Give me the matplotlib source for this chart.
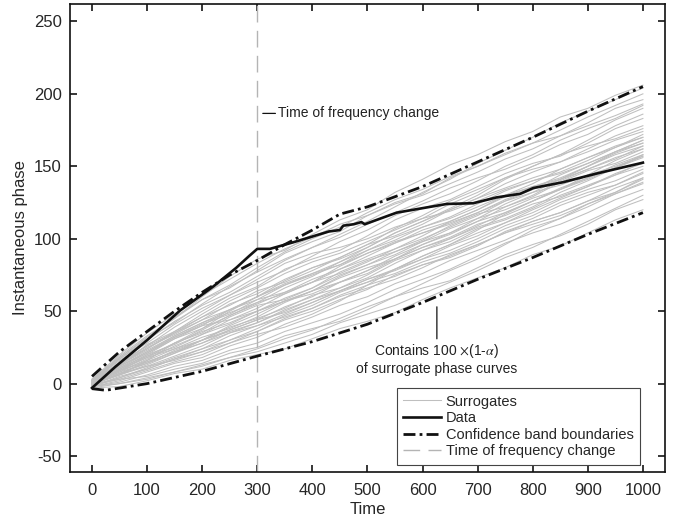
import numpy as np
import matplotlib
matplotlib.use("Agg")
import matplotlib.pyplot as plt

plt.rcParams['font.family'] = ['Liberation Sans', 'DejaVu Sans']
plt.rcParams['mathtext.fontset'] = 'stix'
plt.rcParams['axes.unicode_minus'] = False

# surrogate phase curves, sampled every 50 time units
surr_t = [0, 50, 100, 150, 200, 250, 300, 350, 400, 450, 500,
          550, 600, 650, 700, 750, 800, 850, 900, 950, 1000]
surrogates = [
    [2, 19, 33, 45, 60, 74, 86, 92, 103, 113, 120, 132, 141, 151, 158, 167, 174, 184, 190, 199, 206],
    [-3, -2, 2, 7, 10, 16, 20, 24, 31, 38, 43, 49, 58, 66, 73, 80, 89, 95, 104, 113, 120],
    [1, 17, 30, 46, 58, 66, 78, 90, 98, 105, 116, 125, 131, 142, 150, 159, 166, 171, 180, 190, 196],
    [-1, 3, 5, 10, 14, 21, 25, 33, 38, 43, 51, 60, 66, 71, 80, 89, 96, 102, 110, 120, 127],
    [0, 12, 27, 36, 48, 59, 67, 79, 86, 92, 102, 113, 121, 127, 136, 145, 152, 157, 166, 176, 183],
    [-2, 5, 10, 17, 22, 28, 36, 44, 50, 58, 65, 75, 82, 87, 95, 105, 112, 118, 126, 132, 141],
    [1, 12, 21, 32, 41, 48, 58, 68, 75, 82, 92, 101, 108, 115, 124, 133, 140, 146, 154, 163, 170],
    [0, 8, 14, 21, 30, 39, 45, 52, 61, 66, 75, 85, 92, 98, 107, 113, 121, 130, 137, 144, 153],
    [1, 9, 19, 28, 35, 46, 54, 58, 66, 77, 85, 91, 99, 109, 117, 122, 129, 139, 147, 152, 160],
    [2, 16, 28, 41, 52, 61, 72, 83, 90, 94, 100, 108, 114, 119, 126, 134, 140, 145, 152, 160, 166],
    [-2, 2, 8, 14, 18, 26, 32, 41, 48, 57, 68, 79, 88, 96, 106, 117, 126, 134, 144, 154, 162],
    [0, 6, 16, 28, 38, 50, 60, 71, 80, 87, 96, 102, 110, 120, 128, 138, 146, 153, 162, 171, 178],
    [1, 12, 22, 32, 40, 44, 50, 57, 62, 70, 76, 86, 94, 101, 110, 116, 124, 129, 136, 144, 150],
    [-1, 7, 12, 19, 26, 35, 42, 51, 58, 64, 72, 78, 86, 95, 102, 111, 118, 127, 134, 140, 148],
    [3, 13, 25, 34, 44, 55, 62, 72, 80, 86, 94, 104, 112, 121, 130, 141, 150, 158, 168, 178, 186],
    [0, 10, 18, 24, 32, 38, 46, 56, 64, 74, 82, 89, 98, 107, 114, 120, 128, 134, 142, 151, 158],
    [2, 14, 24, 36, 46, 54, 64, 70, 78, 87, 96, 107, 116, 126, 134, 142, 148, 153, 160, 168, 174],
    [-1, 4, 11, 18, 24, 30, 38, 47, 54, 63, 70, 76, 84, 90, 98, 107, 114, 123, 130, 137, 146],
    [1, 10, 20, 27, 37, 47, 55, 63, 72, 79, 88, 97, 104, 110, 118, 127, 134, 141, 150, 159, 166],
    [0, 9, 15, 22, 28, 37, 44, 49, 56, 64, 70, 79, 86, 92, 100, 109, 116, 125, 132, 137, 145],
    [2, 17, 30, 43, 54, 63, 74, 85, 94, 101, 110, 118, 126, 135, 142, 148, 156, 165, 172, 182, 190],
    [-2, 1, 6, 12, 16, 23, 28, 36, 42, 48, 56, 65, 72, 79, 88, 97, 104, 110, 118, 127, 134],
    [1, 13, 23, 33, 42, 51, 58, 63, 70, 79, 86, 93, 102, 112, 120, 130, 138, 148, 156, 163, 172],
    [0, 6, 13, 21, 28, 35, 40, 46, 52, 60, 66, 72, 80, 89, 96, 104, 112, 118, 126, 135, 142],
    [1, 15, 26, 39, 50, 61, 70, 78, 88, 98, 106, 116, 124, 131, 140, 150, 158, 168, 176, 183, 192],
    [-1, 3, 9, 15, 20, 28, 34, 39, 46, 54, 60, 69, 76, 85, 92, 99, 108, 114, 122, 131, 138],
    [2, 11, 19, 25, 34, 44, 52, 62, 70, 81, 90, 97, 106, 112, 120, 129, 136, 142, 150, 158, 164],
    [0, 8, 17, 26, 34, 41, 50, 57, 64, 70, 78, 88, 96, 103, 112, 122, 130, 140, 148, 155, 164],
    [1, 11, 21, 31, 38, 47, 56, 66, 74, 84, 92, 99, 108, 114, 122, 130, 136, 141, 148, 156, 162],
    [-1, 7, 14, 23, 30, 40, 48, 57, 64, 73, 80, 86, 94, 100, 108, 114, 122, 132, 140, 149, 156],
    [3, 18, 32, 45, 58, 68, 80, 91, 100, 108, 118, 127, 134, 143, 150, 158, 166, 175, 184, 192, 200],
    [-3, 0, 3, 8, 12, 18, 22, 28, 34, 42, 48, 54, 62, 70, 78, 87, 94, 103, 112, 121, 130],
    [0, 10, 20, 31, 40, 51, 60, 68, 76, 82, 90, 98, 104, 111, 118, 126, 132, 137, 144, 150, 157],
    [1, 9, 16, 24, 30, 37, 44, 53, 60, 70, 78, 86, 96, 104, 114, 124, 132, 141, 150, 160, 168],
    [0, 13, 24, 35, 44, 51, 60, 69, 76, 84, 94, 104, 112, 120, 128, 135, 142, 148, 156, 164, 170],
    [-1, 6, 12, 16, 22, 30, 36, 45, 52, 61, 68, 74, 82, 88, 96, 104, 110, 116, 124, 131, 139],
    [2, 14, 26, 35, 46, 57, 66, 76, 84, 90, 98, 106, 114, 124, 132, 142, 150, 158, 164, 169, 176],
    [0, 9, 18, 28, 36, 42, 50, 59, 66, 75, 82, 91, 98, 104, 112, 118, 126, 135, 142, 149, 158],
    [1, 12, 22, 33, 42, 49, 56, 62, 70, 76, 84, 93, 100, 108, 116, 126, 134, 144, 152, 160, 168],
    [-2, 4, 10, 17, 24, 33, 40, 48, 56, 64, 72, 79, 88, 96, 104, 111, 120, 128, 136, 145, 152],
    [3, 20, 35, 48, 61, 72, 83, 93, 101, 110, 116, 124, 130, 138, 146, 155, 162, 171, 178, 185, 193],
    [2, 18, 31, 42, 55, 67, 77, 86, 94, 103, 112, 122, 132, 141, 152, 161, 170, 180, 188, 196, 204],
    [-2, 0, 4, 8, 13, 18, 24, 31, 37, 45, 53, 60, 69, 78, 86, 96, 106, 114, 124, 132, 142],
    [0, 7, 15, 22, 30, 36, 42, 50, 58, 66, 73, 83, 92, 100, 109, 118, 126, 134, 141, 149, 157],
]

# observed phase
data_t = [0, 42, 100, 160, 220, 262, 285, 300, 323, 365, 430, 450, 456, 475,
          489, 495, 553, 644, 692, 734, 777, 801, 855, 916, 1000]
data_v = [-3, 11.5, 30, 50.5, 67, 80, 88, 93, 93, 97.5, 105, 106, 109, 110,
          111.5, 110, 118, 124, 124.5, 128.5, 131, 135, 139, 145, 152.5]

# confidence band boundaries
up_t = [0, 50, 100, 150, 200, 250, 300, 350, 400, 450, 500, 600, 700, 800, 900, 1000]
up_v = [5, 22, 36, 50, 63, 75, 85, 96, 106, 117, 122, 136, 153, 170, 188, 205]
lo_t = [0, 25, 100, 200, 300, 400, 450, 500, 600, 700, 800, 900, 1000]
lo_v = [-3.5, -4.6, 0, 8.5, 19, 29, 35, 41, 56, 72, 87, 103, 118]

t_change = 300

fig = plt.figure(figsize=(6.82, 5.22), dpi=100)
ax = fig.add_axes([0.1026, 0.0958, 0.8724, 0.8965])

for i, s in enumerate(surrogates):
    ax.plot(surr_t, s, color='#bfbfbf', lw=0.75,
            label='Surrogates' if i == 0 else None, zorder=1)
ax.plot(data_t, data_v, color='#111111', lw=1.9, label='Data', zorder=3)
ax.plot(up_t, up_v, color='#111111', lw=2.0, dashes=(4.3, 1.5, 1.0, 1.5),
        label='Confidence band boundaries', zorder=4)
ax.plot(lo_t, lo_v, color='#111111', lw=2.0, dashes=(4.3, 1.5, 1.0, 1.5), zorder=4)
ax.axvline(t_change, color='#b4b4b4', lw=1.0, dashes=(12, 6),
           label='Time of frequency change', zorder=2)

ax.annotate('Time of frequency change', xy=(310, 186.5), xytext=(338, 186.5),
            va='center', ha='left', fontsize=10, color='#222222',
            arrowprops=dict(arrowstyle='-', lw=0.9, color='#111111',
                            shrinkA=0, shrinkB=0))
ax.annotate('Contains 100 $\\times$(1-$\\alpha$)\nof surrogate phase curves',
            xy=(626, 53), xytext=(626, 29), va='top', ha='center',
            fontsize=10, color='#222222', linespacing=1.25,
            arrowprops=dict(arrowstyle='-', lw=0.9, color='#111111',
                            shrinkA=0, shrinkB=0))

ax.set_xlim(-40, 1040)
ax.set_ylim(-61, 262)
ax.set_xticks(np.arange(0, 1001, 100))
ax.set_yticks(np.arange(-50, 251, 50))
ax.tick_params(direction='in', top=True, right=True, length=5, width=1.1,
               labelsize=12, labelcolor='#262626')
ax.tick_params(axis='x', pad=8)
ax.tick_params(axis='y', pad=6)
for sp in ax.spines.values():
    sp.set_linewidth(1.2)
    sp.set_color('#111111')
ax.set_xlabel('Time', fontsize=12, color='#262626', labelpad=3)
ax.set_ylabel('Instantaneous phase', fontsize=12, color='#262626', labelpad=4)

leg = ax.legend(loc='lower right', bbox_to_anchor=(0.958, 0.015), borderaxespad=0,
                fontsize=10.5, fancybox=False, framealpha=1, edgecolor='#444444',
                handlelength=2.6, handletextpad=0.3, labelspacing=0.18,
                borderpad=0.45)
leg.get_frame().set_linewidth(0.8)
for txt in leg.get_texts():
    txt.set_color('#262626')

fig.savefig('out.png', dpi=100)
